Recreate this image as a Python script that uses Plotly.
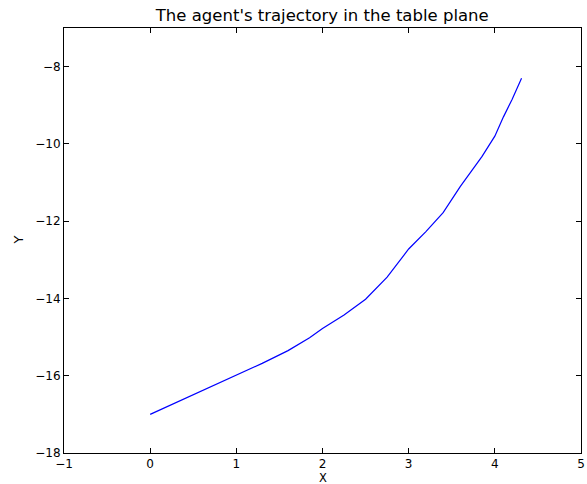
import plotly.graph_objects as go

# Agent position in the table plane
traj_x = [0.0, 0.5, 1.0, 1.3, 1.6, 1.85, 2.0, 2.25, 2.5, 2.75, 3.0, 3.2, 3.4, 3.6, 3.85, 4.0, 4.1, 4.2, 4.31]
traj_y = [-17.0, -16.5, -16.0, -15.68, -15.35, -15.02, -14.78, -14.43, -14.02, -13.45, -12.72, -12.27, -11.78, -11.1, -10.33, -9.8, -9.3, -8.85, -8.3]

x_range = [-1, 5]
y_range = [-18, -7]
x_ticks = [-1, 0, 1, 2, 3, 4, 5]
y_ticks = [-18, -16, -14, -12, -10, -8]

font_family = "DejaVu Sans"

fig = go.Figure()
fig.add_trace(go.Scatter(
    x=traj_x, y=traj_y, mode="lines",
    line=dict(color="#0000ff", width=1.2),
    showlegend=False,
))

axis_common = dict(
    showgrid=False, zeroline=False, automargin=False,
    showline=True, linecolor="black", linewidth=1,
    mirror="allticks", ticks="inside", ticklen=5, tickwidth=1, tickcolor="black",
    tickfont=dict(family=font_family, size=12, color="black"),
)

fig.update_xaxes(range=x_range, tickvals=x_ticks, **axis_common)
fig.update_yaxes(range=y_range, tickvals=y_ticks, **axis_common)

fig.update_layout(
    width=587, height=484,
    margin=dict(l=64, r=6, t=28, b=31),
    paper_bgcolor="white", plot_bgcolor="white",
    title=dict(text="The agent's trajectory in the table plane",
               font=dict(family=font_family, size=16.5, color="black"),
               x=0.549, xanchor="center", y=0.968, yanchor="middle"),
    annotations=[
        dict(text="X", xref="paper", yref="paper", x=0.5, y=0, yshift=-16.5,
             xanchor="center", yanchor="top", showarrow=False, borderpad=0,
             font=dict(family=font_family, size=11.5, color="black")),
        dict(text="Y", xref="paper", yref="paper", x=0, y=0.5, xshift=-46,
             xanchor="center", yanchor="middle", showarrow=False, textangle=-90,
             font=dict(family=font_family, size=13, color="black")),
    ],
)

fig.write_html("out.html")
